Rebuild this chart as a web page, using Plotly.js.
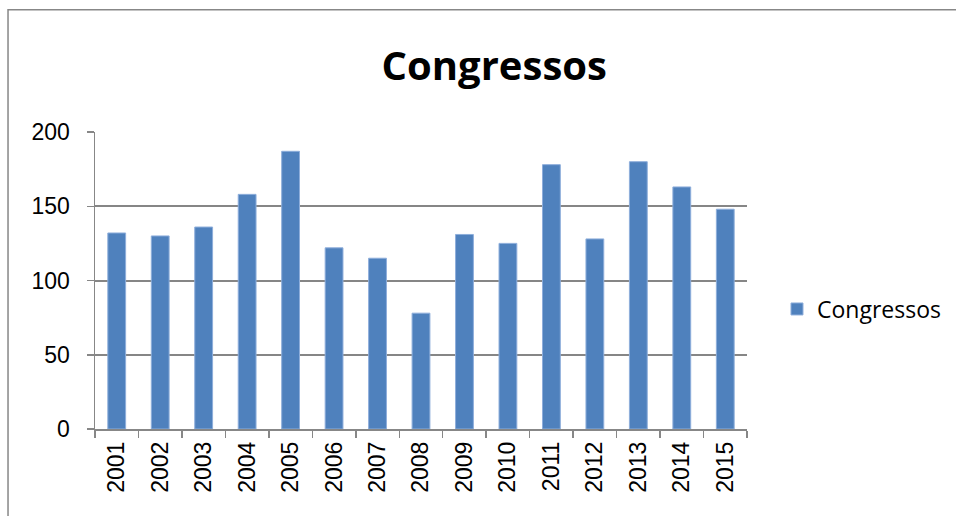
<!DOCTYPE html>
<html>
<head>
<meta charset="utf-8">
<script src="https://cdn.plot.ly/plotly-3.0.1.min.js"></script>
<style>html,body{margin:0;padding:0;background:#fff;}</style>
</head>
<body>
<div id="chart" style="width:956px;height:516px;"></div>
<script>
const years = ['2001','2002','2003','2004','2005','2006','2007','2008','2009','2010','2011','2012','2013','2014','2015'];
const congressos = [132,130,136,158,187,122,115,78,131,125,178,128,180,163,148];
const seriesName = 'Congressos';
const yTicks = [0,50,100,150,200];

const trace = {
  type: 'bar',
  x: years,
  y: congressos,
  name: seriesName,
  marker: {color: '#4F81BD', line: {color: '#8eaedb', width: 1}},
  showlegend: true
};

const layout = {
  width: 956,
  height: 516,
  margin: {l: 95, r: 209, t: 132, b: 87, pad: 0, autoexpand: false},
  paper_bgcolor: '#fff',
  plot_bgcolor: '#fff',
  bargap: 0.59,
  title: {
    text: '<b>Congressos</b>',
    font: {family: 'Open Sans', size: 40, color: '#000'},
    x: 0.517, xref: 'container', xanchor: 'center',
    y: 0.872, yref: 'container', yanchor: 'middle'
  },
  xaxis: {
    type: 'category',
    showline: true, linecolor: '#878787', linewidth: 1.5,
    ticks: 'outside', tickson: 'boundaries', ticklen: 7, tickcolor: '#878787', tickwidth: 1.5,
    tickangle: -90,
    ticklabelstandoff: 2,
    tickfont: {family: 'Liberation Sans', size: 23, color: '#000'},
    showgrid: false, zeroline: false
  },
  yaxis: {
    range: [0, 200],
    tickvals: yTicks,
    showline: true, linecolor: '#878787', linewidth: 1.5,
    ticks: 'outside', ticklen: 7, tickcolor: '#878787', tickwidth: 1.5,
    ticklabelstandoff: 12,
    tickfont: {family: 'Liberation Sans', size: 23, color: '#000'},
    showgrid: true, gridcolor: '#868686', gridwidth: 2,
    zeroline: false
  },
  legend: {
    x: 1.046, xanchor: 'left',
    y: 0.404, yanchor: 'middle',
    font: {family: 'Open Sans', size: 23, color: '#000'},
    bgcolor: 'rgba(0,0,0,0)'
  },
  shapes: [{
    type: 'rect', xref: 'paper', yref: 'paper',
    x0: -0.1334, x1: 1.4, y0: -0.35, y1: 1.412,
    line: {color: '#878787', width: 1.5},
    fillcolor: 'rgba(0,0,0,0)', layer: 'below'
  }]
};

Plotly.newPlot('chart', [trace], layout, {displayModeBar: false, staticPlot: true});
</script>
</body>
</html>
